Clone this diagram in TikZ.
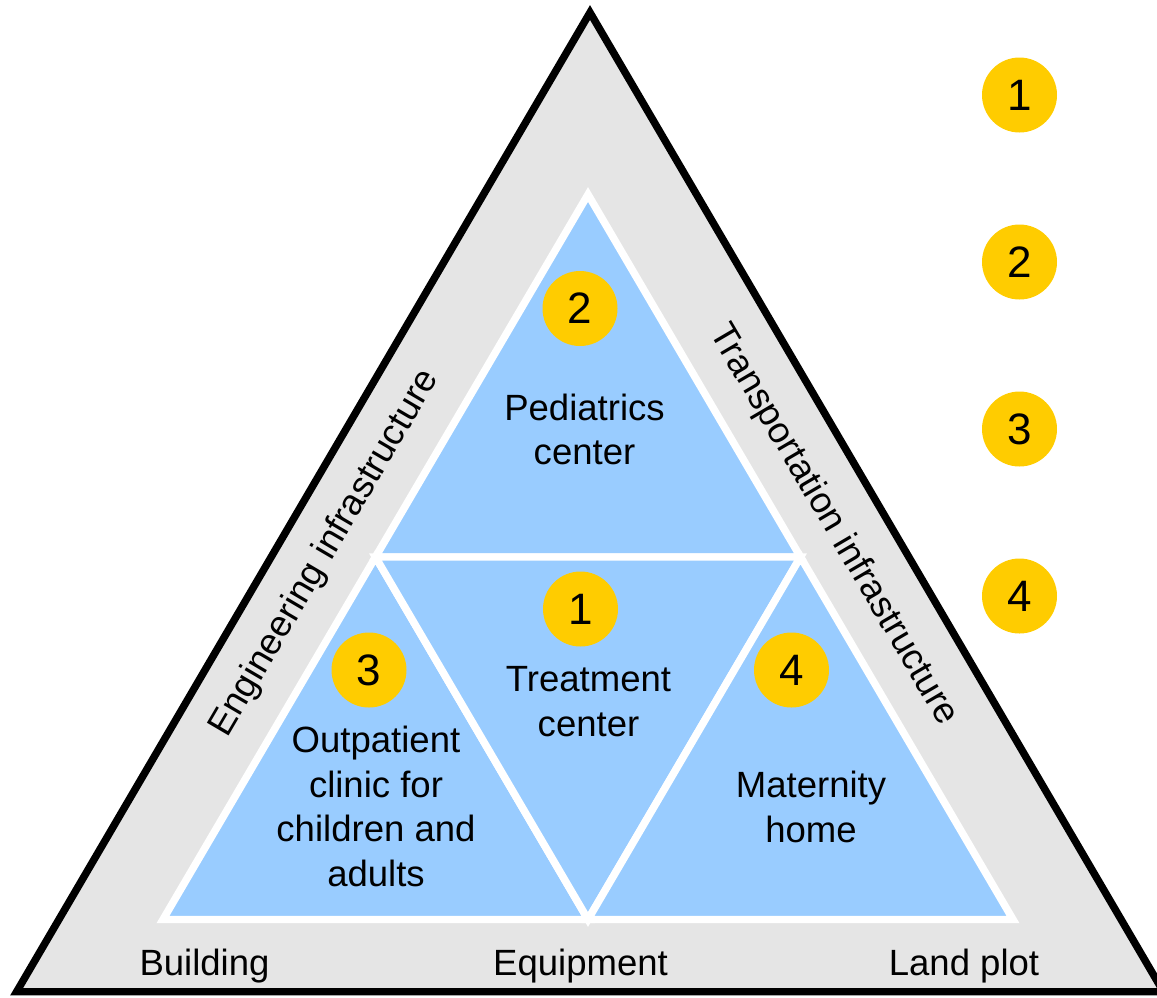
\documentclass[tikz,border=0pt]{standalone}
\usepackage{fontspec}
\setmainfont{Liberation Sans}
\definecolor{bandgray}{HTML}{E5E5E5}
\definecolor{cellblue}{HTML}{99CCFF}
\definecolor{badgeyellow}{HTML}{FFCC00}
\begin{document}
\begin{tikzpicture}[x=0.75pt,y=-0.75pt,line join=miter,
  outertri/.style={fill=bandgray,draw=black,line width=5.6pt},
  cell/.style={fill=cellblue,draw=white,line width=5.6pt},
  badge/.style={circle,fill=badgeyellow,minimum size=56.25pt,inner sep=0pt,font=\fontsize{33}{33}\selectfont},
  lbl/.style={align=center,inner sep=0pt,font=\fontsize{27.4}{33.4}\selectfont}]
\useasboundingbox (0,0) rectangle (1157,997);
\clip (0,0) rectangle (1157,997);
% outer triangle
\coordinate (OA) at (590,12.5);
\coordinate (OL) at (16.6,991.75);
\coordinate (OR) at (1163.4,991.75);
\filldraw[outertri] (OA) -- (OL) -- (OR) -- cycle;
% inner triangles
\coordinate (IA) at (588,194.5);
\coordinate (IL) at (163,919.5);
\coordinate (IR) at (1013,919.5);
\coordinate (ML) at (375.5,557);
\coordinate (MR) at (800.5,557);
\coordinate (MB) at (588,919.5);
\filldraw[cell] (IA) -- (ML) -- (MR) -- cycle;
\filldraw[cell] (ML) -- (IL) -- (MB) -- cycle;
\filldraw[cell] (ML) -- (MR) -- (MB) -- cycle;
\filldraw[cell] (MR) -- (MB) -- (IR) -- cycle;
% badges inside
\node[badge] (b2) at (580,308.5) {2};
\node[badge] (b1) at (580.5,609) {1};
\node[badge] (b3) at (369,670) {3};
\node[badge] (b4) at (791.5,670) {4};
% badges on the right
\node[badge] (k1) at (1019.5,95) {1};
\node[badge] (k2) at (1019.5,262) {2};
\node[badge] (k3) at (1019.5,429) {3};
\node[badge] (k4) at (1019.5,596) {4};
% cell labels
\node[lbl] (ped) at (584.5,429.2) {Pediatrics\\center};
\node[lbl] (treat) at (588.5,701.7) {Treatment\\center};
\node[lbl] (outp) at (376,806.2) {Outpatient\\clinic for\\children and\\adults};
\node[lbl] (mat) at (811,806.7) {Maternity\\home};
% bottom labels
\node[lbl,anchor=base] (bld) at (204.5,975) {Building};
\node[lbl,anchor=base] (eqp) at (580.5,975) {Equipment};
\node[lbl,anchor=base] (land) at (964,975) {Land plot};
% side labels
\node[lbl,rotate=59.6] (eng) at (325,553.5) {Engineering infrastructure};
\node[lbl,rotate=-59.6] (trn) at (833,525) {Transportation infrastructure};
\end{tikzpicture}
\end{document}
